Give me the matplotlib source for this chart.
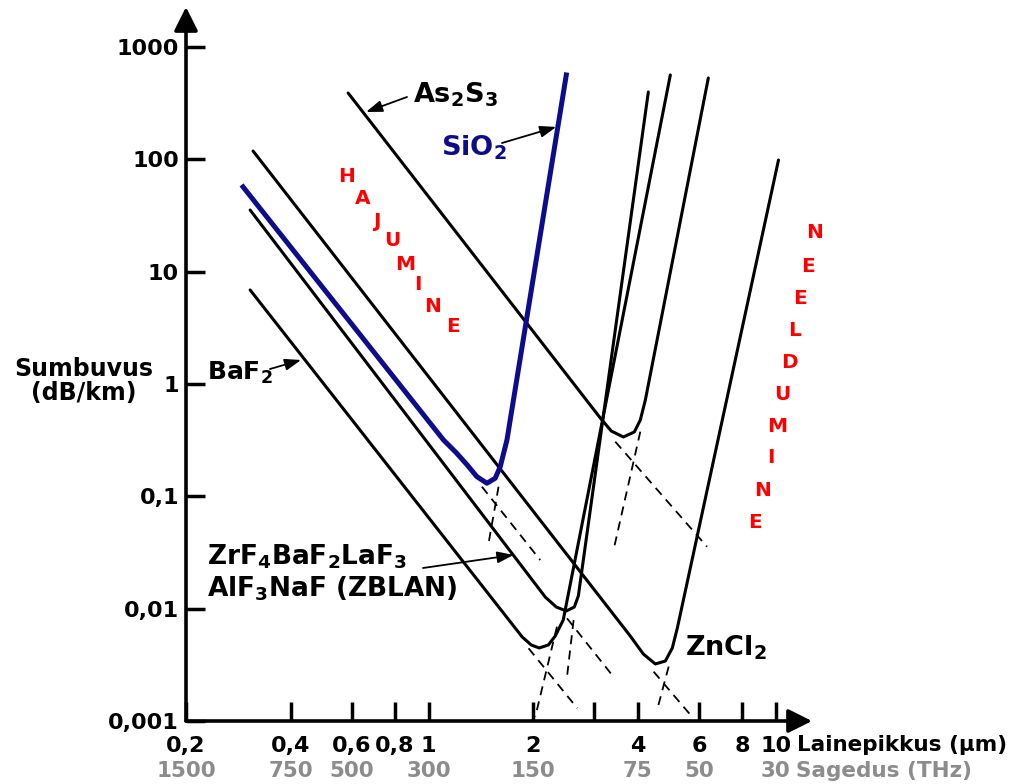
import matplotlib
matplotlib.use('Agg')
import matplotlib.pyplot as plt
import matplotlib.transforms as mtransforms
from matplotlib.ticker import FixedLocator, NullLocator, NullFormatter

plt.rcParams['font.family'] = 'DejaVu Sans'
plt.rcParams['font.weight'] = 'bold'
plt.rcParams['mathtext.fontset'] = 'dejavusans'

# values: wavelength (um) and loss (dB/km)
sio2_wl = [0.292, 1.103, 1.200, 1.288, 1.376, 1.471, 1.554, 1.607, 1.680, 2.49]
sio2_loss = [57, 0.318, 0.245, 0.192, 0.150, 0.131, 0.145, 0.184, 0.318, 566]
sio2_ray_wl = [1.423, 2.095]
sio2_ray_loss = [0.122, 0.0271]
sio2_ir_wl = [1.589, 1.487]
sio2_ir_loss = [0.122, 0.0382]

zncl2_wl = [0.312, 3.806, 4.150, 4.494, 4.802, 5.030, 5.200, 10.17]
zncl2_loss = [119, 0.00571, 0.00395, 0.00322, 0.00342, 0.00447, 0.00673, 99]
zncl2_ray_wl = [4.444, 5.734]
zncl2_ray_loss = [0.00275, 0.00109]
zncl2_ir_wl = [4.909, 4.546]
zncl2_ir_loss = [0.00305, 0.00125]

zblan_wl = [0.306, 2.166, 2.330, 2.490, 2.626, 2.697, 4.290]
zblan_loss = [35.5, 0.0127, 0.01035, 0.00954, 0.01035, 0.01297, 399]
zblan_ray_wl = [2.502, 3.372]
zblan_ray_loss = [0.00821, 0.00257]
zblan_ir_wl = [2.614, 2.502]
zblan_ir_loss = [0.00793, 0.00248]

baf2_wl = [0.306, 1.859, 1.974, 2.081, 2.210, 2.314, 2.440, 4.964]
baf2_loss = [6.89, 0.0056, 0.00475, 0.00447, 0.00475, 0.00571, 0.00793, 566]
baf2_ray_wl = [1.939, 2.678]
baf2_ray_loss = [0.00444, 0.0013]
baf2_ir_wl = [2.340, 2.027]
baf2_ir_loss = [0.00691, 0.00109]

as2s3_wl = [0.586, 3.120, 3.356, 3.635, 3.910, 4.068, 4.206, 6.386]
as2s3_loss = [391, 0.499, 0.382, 0.338, 0.375, 0.479, 0.722, 532]
as2s3_ray_wl = [3.446, 6.332]
as2s3_ray_loss = [0.307, 0.0356]
as2s3_ir_wl = [4.068, 3.406]
as2s3_ir_loss = [0.377, 0.0333]

wl_ticks = [0.2, 0.4, 0.6, 0.8, 1, 2, 4, 6, 8, 10]
wl_labels = ['0,2', '0,4', '0,6', '0,8', '1', '2', '4', '6', '8', '10']
freq_thz = [1500, 750, 500, 300, 150, 75, 50, 30]
loss_ticks = [0.001, 0.01, 0.1, 1, 10, 100, 1000]
loss_labels = ['0,001', '0,01', '0,1', '1', '10', '100', '1000']

W, H = 1010, 784
fig = plt.figure(figsize=(W / 100, H / 100), dpi=100)
fig.patch.set_facecolor('white')


def fx(px):
    return px / W


def fy(py):
    return 1 - py / H


ax = fig.add_axes([fx(186), fy(721), 626 / W, 714 / H])
ax.set_xscale('log')
ax.set_yscale('log')
ax.set_xlim(0.2, 12.7)
ax.set_ylim(0.001, 2280)
for s in ax.spines.values():
    s.set_visible(False)

# axes with arrow heads
arrow_kw = dict(arrowstyle='-|>,head_length=1.2,head_width=0.6', lw=2.6,
                color='k', shrinkA=0, shrinkB=0, mutation_scale=12)
ax.annotate('', xy=(1, 0), xytext=(0, 0), xycoords='axes fraction', arrowprops=arrow_kw)
ax.annotate('', xy=(0, 1), xytext=(0, 0), xycoords='axes fraction', arrowprops=arrow_kw)

ax.set_xticks(wl_ticks, wl_labels)
ax.xaxis.set_minor_locator(FixedLocator([3]))
ax.xaxis.set_minor_formatter(NullFormatter())
ax.set_yticks(loss_ticks, loss_labels)
ax.yaxis.set_minor_locator(NullLocator())
ax.tick_params(which='both', direction='in', length=14, width=2.5, labelsize=16)
ax.tick_params(axis='x', pad=11)
ax.tick_params(axis='y', pad=5)

# frequency row under the wavelength labels
trans = mtransforms.blended_transform_factory(ax.transData, fig.transFigure)
for f in freq_thz:
    ax.text(300 / f, fy(771), str(f), transform=trans, ha='center', va='center',
            color='#8c8c8c', fontsize=15.5, fontweight='bold')
fig.text(fx(797), fy(745), 'Lainepikkus (µm)', ha='left', va='center', fontsize=15.5)
fig.text(fx(796), fy(771), 'Sagedus (THz)', ha='left', va='center', fontsize=15.5, color='#8c8c8c')
fig.text(fx(84), fy(381), 'Sumbuvus\n(dB/km)', ha='center', va='center', fontsize=17,
         linespacing=1.0)

# curves
for wl, loss in [(zncl2_wl, zncl2_loss), (zblan_wl, zblan_loss),
                 (baf2_wl, baf2_loss), (as2s3_wl, as2s3_loss)]:
    ax.plot(wl, loss, color='k', lw=2.2, solid_joinstyle='round', solid_capstyle='round')
ax.plot(sio2_wl, sio2_loss, color='#0c0c8c', lw=3.6, solid_joinstyle='round')

dashed = [(sio2_ray_wl, sio2_ray_loss), (sio2_ir_wl, sio2_ir_loss),
          (zncl2_ray_wl, zncl2_ray_loss), (zncl2_ir_wl, zncl2_ir_loss),
          (zblan_ray_wl, zblan_ray_loss), (zblan_ir_wl, zblan_ir_loss),
          (baf2_ray_wl, baf2_ray_loss), (baf2_ir_wl, baf2_ir_loss),
          (as2s3_ray_wl, as2s3_ray_loss), (as2s3_ir_wl, as2s3_ir_loss)]
for wl, loss in dashed:
    ax.plot(wl, loss, color='k', lw=1.3, dashes=(5, 3.5))

# labels with pointer arrows
pkw = dict(arrowstyle='-|>,head_length=0.7,head_width=0.25', lw=1.3, color='k',
           shrinkA=0, shrinkB=0, mutation_scale=14)
ax.annotate('', xy=(0.660, 265), xytext=(fx(407), fy(97)), textcoords='figure fraction', arrowprops=pkw)
ax.annotate('', xy=(2.330, 195), xytext=(fx(502), fy(143)), textcoords='figure fraction', arrowprops=pkw)
ax.annotate('', xy=(0.429, 1.64), xytext=(fx(270), fy(369)), textcoords='figure fraction', arrowprops=pkw)
ax.annotate('', xy=(1.755, 0.0301), xytext=(fx(423), fy(568)), textcoords='figure fraction', arrowprops=pkw)

fig.text(fx(413), fy(95), r'$\mathbf{As_2S_3}$', ha='left', va='center', fontsize=19.5)
fig.text(fx(441), fy(148), r'$\mathbf{SiO_2}$', ha='left', va='center', fontsize=19.5, color='#0c0c8c')
fig.text(fx(207), fy(373), r'$\mathbf{BaF_2}$', ha='left', va='center', fontsize=18)
fig.text(fx(207), fy(557), r'$\mathbf{ZrF_4BaF_2LaF_3}$', ha='left', va='center', fontsize=19)
fig.text(fx(207), fy(589), r'$\mathbf{AlF_3NaF\ (ZBLAN)}$', ha='left', va='center', fontsize=19)
fig.text(fx(685), fy(648), r'$\mathbf{ZnCl_2}$', ha='left', va='center', fontsize=19.5)

# red region words, one letter at a time
hajumine_xy = [(347, 177), (363, 199), (377, 221), (392, 241), (405, 264),
               (418, 285), (433, 307), (453, 327)]
for ch, (px, py) in zip('HAJUMINE', hajumine_xy):
    fig.text(fx(px), fy(py), ch, color='red', fontsize=14.5, ha='center', va='center')
neeldumine_xy = [(815, 233), (808, 267), (800, 299), (795, 330), (789, 363),
                 (782, 395), (777, 427), (771, 458), (763, 490), (755, 522)]
for ch, (px, py) in zip('NEELDUMINE', neeldumine_xy):
    fig.text(fx(px), fy(py), ch, color='red', fontsize=14.5, ha='center', va='center')

fig.savefig('out.png', dpi=100, facecolor='white')
